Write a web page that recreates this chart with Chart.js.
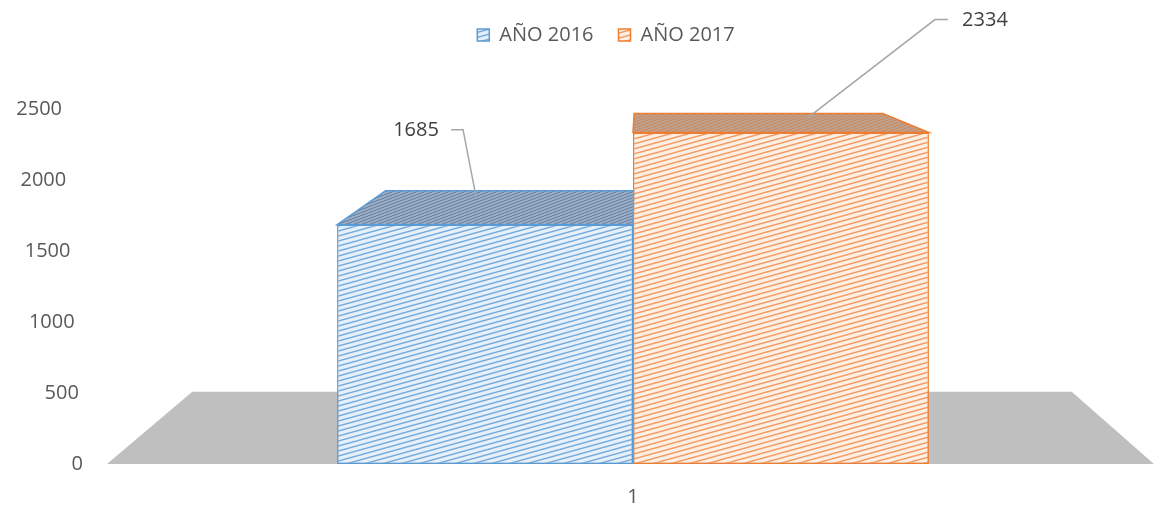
<!DOCTYPE html>
<html>
<head>
<meta charset="utf-8">
<script src="https://cdn.jsdelivr.net/npm/chart.js@4.4.1/dist/chart.umd.min.js"></script>
<style>
  html, body { margin:0; padding:0; background:#fff; }
  #wrap { width:1154px; height:507px; position:relative; }
</style>
</head>
<body>
<div id="wrap"><canvas id="chart"></canvas></div>
<script>
/* DATA */
const categories = ["1"];
const seriesNames = ["AÑO 2016", "AÑO 2017"];
const values2016 = [1685];
const values2017 = [2334];
const yMax = 2500;
const yStep = 500;

/* LOOK */
const FONT = "'Open Sans', 'Noto Sans', sans-serif";
const TEXT = "#595959";
const VP = { x: 640, y: 13 };   // vanishing point of the fake 3D
const DEPTH = 0.84;             // back plane scale toward VP

function hatch(bg, fg, w, h, lw){
  const c = document.createElement("canvas");
  c.width = w; c.height = h;
  const g = c.getContext("2d");
  g.fillStyle = bg;
  g.fillRect(0, 0, w, h);
  g.strokeStyle = fg;
  g.lineWidth = lw;
  for(const o of [-h, 0, h]){
    g.beginPath(); g.moveTo(0, h + o); g.lineTo(w, o); g.stroke();
  }
  return g.createPattern(c, "repeat");
}

const styles = [
  { front: hatch("#e6f0fa", "#74aadc", 18, 5, 1.4), top: hatch("#a3b3c6", "#6a86a8", 8, 3, 1.2),
    border: "#5b9bd5", label: {dx: -69, dy: -94}, leader: [[-34,-95],[-22,-95],[-9,-28]] },
  { front: hatch("#fdefe4", "#f29a60", 18, 5, 1.4), top: hatch("#b9a497", "#cf8b60", 8, 3, 1.2),
    border: "#ed7d31", label: {dx: 204, dy: -112}, leader: [[167,-113],[154,-113],[27,-15]] }
];

const proj = (px, py) => [VP.x + (px - VP.x) * DEPTH, VP.y + (py - VP.y) * DEPTH];

const fake3d = {
  id: "fake3d",
  beforeInit(chart){
    // room between legend and plot
    const fit = chart.legend.fit;
    chart.legend.fit = function(){ fit.call(this); this.height += 54; };
  },
  beforeDatasetsDraw(chart){
    const {ctx, chartArea, scales:{y}} = chart;
    const y0 = y.getPixelForValue(0);
    const fl = chartArea.left - 5, fr = chartArea.right;
    ctx.save();
    // floor
    ctx.fillStyle = "#bfbfbf";
    ctx.beginPath();
    ctx.moveTo(fl, y0); ctx.lineTo(fr, y0);
    let p = proj(fr, y0); ctx.lineTo(p[0], p[1]);
    p = proj(fl, y0); ctx.lineTo(p[0], p[1]);
    ctx.closePath(); ctx.fill();
    // bar tops
    chart.data.datasets.forEach((ds, i) => {
      chart.getDatasetMeta(i).data.forEach(bar => {
        const {x, y: top, width} = bar.getProps(["x", "y", "width"], true);
        const L = x - width / 2, R = x + width / 2;
        const a = proj(L, top), b = proj(R, top);
        ctx.beginPath();
        ctx.moveTo(L, top); ctx.lineTo(R, top); ctx.lineTo(b[0], b[1]); ctx.lineTo(a[0], a[1]);
        ctx.closePath();
        ctx.fillStyle = styles[i].top; ctx.fill();
        ctx.strokeStyle = styles[i].border; ctx.lineWidth = 1.5; ctx.stroke();
      });
    });
    ctx.restore();
  },
  afterDatasetsDraw(chart){
    const {ctx, scales:{y}} = chart;
    const y0 = y.getPixelForValue(0);
    ctx.save();
    // data labels with leader lines
    chart.data.datasets.forEach((ds, i) => {
      const st = styles[i];
      chart.getDatasetMeta(i).data.forEach((bar, j) => {
        const {x, y: top} = bar.getProps(["x", "y"], true);
        ctx.strokeStyle = "#a6a6a6"; ctx.lineWidth = 1.5;
        ctx.beginPath();
        st.leader.forEach(([dx, dy], k) => k ? ctx.lineTo(x + dx, top + dy) : ctx.moveTo(x + dx, top + dy));
        ctx.stroke();
        ctx.fillStyle = "#404040";
        ctx.font = "20px " + FONT;
        ctx.textAlign = "center"; ctx.textBaseline = "middle";
        ctx.fillText(String(ds.data[j]), x + st.label.dx, top + st.label.dy);
      });
    });
    // y tick labels, shifted like the slanted 3D axis
    ctx.fillStyle = TEXT;
    ctx.font = "20px " + FONT;
    ctx.textAlign = "right"; ctx.textBaseline = "middle";
    y.ticks.forEach(t => {
      const py = y.getPixelForValue(t.value);
      ctx.fillText(String(t.value), 83 - (y0 - py) * 0.059, py);
    });
    ctx.restore();
  }
};

new Chart(document.getElementById("chart"), {
  type: "bar",
  data: {
    labels: categories,
    datasets: [
      { label: seriesNames[0], data: values2016, backgroundColor: styles[0].front,
        borderColor: styles[0].border, borderWidth: 1.5, borderSkipped: false },
      { label: seriesNames[1], data: values2017, backgroundColor: styles[1].front,
        borderColor: styles[1].border, borderWidth: 1.5, borderSkipped: false }
    ]
  },
  options: {
    responsive: true,
    maintainAspectRatio: false,
    animation: false,
    layout: { padding: {left: 58, right: 0, top: 0, bottom: 0} },
    datasets: { bar: { categoryPercentage: 0.568, barPercentage: 1 } },
    plugins: {
      legend: {
        position: "top",
        labels: { boxWidth: 12, boxHeight: 12, padding: 25, color: TEXT, font: {family: FONT, size: 20} }
      },
      tooltip: { enabled: false }
    },
    scales: {
      x: {
        grid: { display: false }, border: { display: false },
        ticks: { color: TEXT, padding: 14, font: {family: FONT, size: 20, lineHeight: 1.1} },
        afterFit(s){ s.height = 43; }
      },
      y: {
        min: 0, max: yMax,
        ticks: { stepSize: yStep, display: false },
        grid: { display: false }, border: { display: false },
        afterFit(s){ s.width = 54; }
      }
    }
  },
  plugins: [fake3d]
});
</script>
</body>
</html>
